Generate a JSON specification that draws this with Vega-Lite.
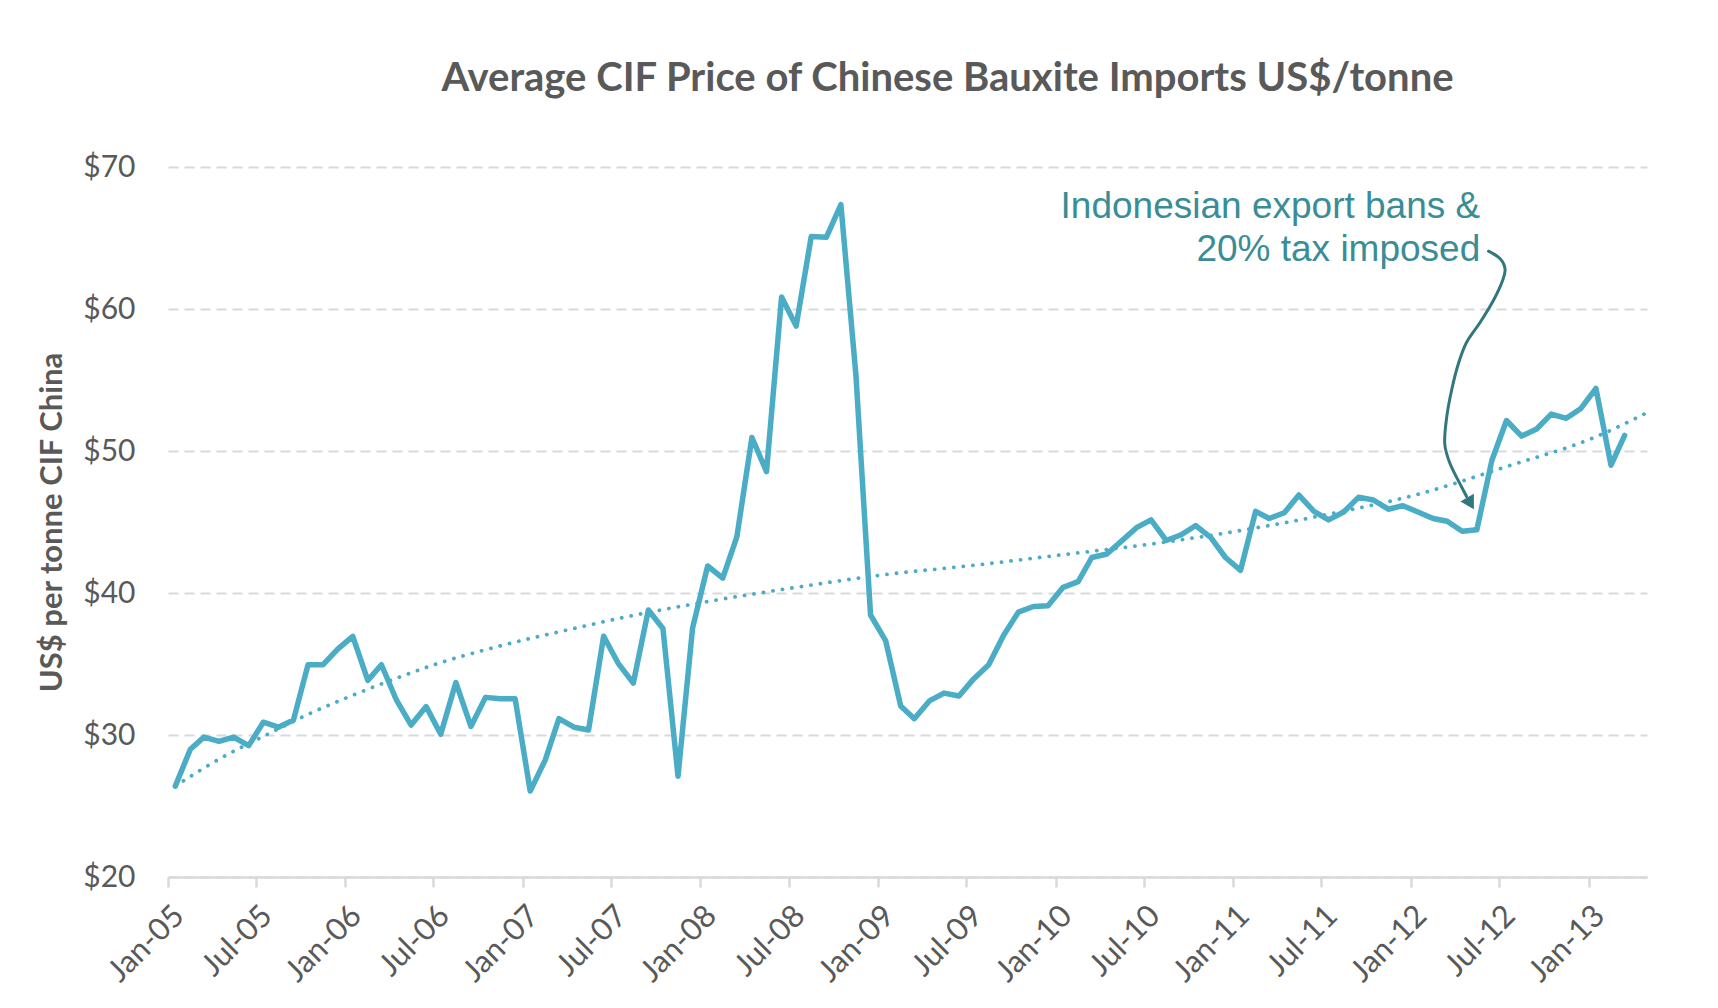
{
  "$schema": "https://vega.github.io/schema/vega-lite/v6.json",
  "width": 1479,
  "height": 710,
  "autosize": {"type": "none"},
  "padding": {"left": 168, "top": 167, "right": 71, "bottom": 131},
  "background": "white",
  "config": {"view": {"stroke": null}, "font": "Lato"},
  "title": {
    "text": "Average CIF Price of Chinese Bauxite Imports US$/tonne",
    "font": "Lato", "fontSize": 40, "fontWeight": "bold", "color": "#595959",
    "anchor": "middle", "dx": 40, "offset": 21, "baseline": "alphabetic"
  },
  "datasets": {
    "price": [
      {"date": "2005-01-16", "value": 26.4}, {"date": "2005-02-16", "value": 29.0}, {"date": "2005-03-16", "value": 29.85},
      {"date": "2005-04-16", "value": 29.55}, {"date": "2005-05-16", "value": 29.85}, {"date": "2005-06-16", "value": 29.25},
      {"date": "2005-07-16", "value": 30.9}, {"date": "2005-08-16", "value": 30.55}, {"date": "2005-09-16", "value": 31.05},
      {"date": "2005-10-16", "value": 34.95}, {"date": "2005-11-16", "value": 34.95}, {"date": "2005-12-16", "value": 36.05},
      {"date": "2006-01-16", "value": 36.95}, {"date": "2006-02-16", "value": 33.85}, {"date": "2006-03-16", "value": 34.95},
      {"date": "2006-04-16", "value": 32.45}, {"date": "2006-05-16", "value": 30.7}, {"date": "2006-06-16", "value": 32.0},
      {"date": "2006-07-16", "value": 30.05}, {"date": "2006-08-16", "value": 33.7}, {"date": "2006-09-16", "value": 30.6},
      {"date": "2006-10-16", "value": 32.65}, {"date": "2006-11-16", "value": 32.55}, {"date": "2006-12-16", "value": 32.55},
      {"date": "2007-01-16", "value": 26.05}, {"date": "2007-02-16", "value": 28.25}, {"date": "2007-03-16", "value": 31.15},
      {"date": "2007-04-16", "value": 30.55}, {"date": "2007-05-16", "value": 30.35}, {"date": "2007-06-16", "value": 36.95},
      {"date": "2007-07-16", "value": 35.05}, {"date": "2007-08-16", "value": 33.65}, {"date": "2007-09-16", "value": 38.8},
      {"date": "2007-10-16", "value": 37.5}, {"date": "2007-11-16", "value": 27.1}, {"date": "2007-12-16", "value": 37.55},
      {"date": "2008-01-16", "value": 41.9}, {"date": "2008-02-16", "value": 41.05}, {"date": "2008-03-16", "value": 43.95},
      {"date": "2008-04-16", "value": 50.95}, {"date": "2008-05-16", "value": 48.55}, {"date": "2008-06-16", "value": 60.85},
      {"date": "2008-07-16", "value": 58.8}, {"date": "2008-08-16", "value": 65.1}, {"date": "2008-09-16", "value": 65.05},
      {"date": "2008-10-16", "value": 67.35}, {"date": "2008-11-16", "value": 55.3}, {"date": "2008-12-16", "value": 38.45},
      {"date": "2009-01-16", "value": 36.65}, {"date": "2009-02-16", "value": 32.05}, {"date": "2009-03-16", "value": 31.15},
      {"date": "2009-04-16", "value": 32.4}, {"date": "2009-05-16", "value": 32.95}, {"date": "2009-06-16", "value": 32.75},
      {"date": "2009-07-16", "value": 33.95}, {"date": "2009-08-16", "value": 34.95}, {"date": "2009-09-16", "value": 37.05},
      {"date": "2009-10-16", "value": 38.65}, {"date": "2009-11-16", "value": 39.05}, {"date": "2009-12-16", "value": 39.1},
      {"date": "2010-01-16", "value": 40.4}, {"date": "2010-02-16", "value": 40.8}, {"date": "2010-03-16", "value": 42.5},
      {"date": "2010-04-16", "value": 42.75}, {"date": "2010-05-16", "value": 43.65}, {"date": "2010-06-16", "value": 44.6},
      {"date": "2010-07-16", "value": 45.15}, {"date": "2010-08-16", "value": 43.7}, {"date": "2010-09-16", "value": 44.1},
      {"date": "2010-10-16", "value": 44.75}, {"date": "2010-11-16", "value": 43.9}, {"date": "2010-12-16", "value": 42.5},
      {"date": "2011-01-16", "value": 41.6}, {"date": "2011-02-16", "value": 45.75}, {"date": "2011-03-16", "value": 45.25},
      {"date": "2011-04-16", "value": 45.65}, {"date": "2011-05-16", "value": 46.9}, {"date": "2011-06-16", "value": 45.75},
      {"date": "2011-07-16", "value": 45.15}, {"date": "2011-08-16", "value": 45.7}, {"date": "2011-09-16", "value": 46.75},
      {"date": "2011-10-16", "value": 46.55}, {"date": "2011-11-16", "value": 45.9}, {"date": "2011-12-16", "value": 46.15},
      {"date": "2012-01-16", "value": 45.7}, {"date": "2012-02-16", "value": 45.25}, {"date": "2012-03-16", "value": 45.05},
      {"date": "2012-04-16", "value": 44.35}, {"date": "2012-05-16", "value": 44.45}, {"date": "2012-06-16", "value": 49.35},
      {"date": "2012-07-16", "value": 52.15}, {"date": "2012-08-16", "value": 51.05}, {"date": "2012-09-16", "value": 51.55},
      {"date": "2012-10-16", "value": 52.6}, {"date": "2012-11-16", "value": 52.3}, {"date": "2012-12-16", "value": 53.0},
      {"date": "2013-01-16", "value": 54.4}, {"date": "2013-02-16", "value": 49.0}, {"date": "2013-03-16", "value": 51.1}
    ],
    "trend": [
      {"date": "2005-01-16", "value": 26.4}, {"date": "2005-04-16", "value": 28.3}, {"date": "2005-07-16", "value": 29.9},
      {"date": "2005-10-16", "value": 31.45}, {"date": "2006-01-16", "value": 32.8}, {"date": "2006-04-16", "value": 34.0},
      {"date": "2006-07-16", "value": 35.1}, {"date": "2006-10-16", "value": 36.0}, {"date": "2007-01-16", "value": 36.8},
      {"date": "2007-04-16", "value": 37.5}, {"date": "2007-07-16", "value": 38.2}, {"date": "2008-01-16", "value": 39.4},
      {"date": "2008-07-16", "value": 40.4}, {"date": "2009-01-16", "value": 41.3}, {"date": "2009-07-16", "value": 41.95},
      {"date": "2010-01-16", "value": 42.7}, {"date": "2010-07-16", "value": 43.45}, {"date": "2011-01-16", "value": 44.4},
      {"date": "2011-07-16", "value": 45.55}, {"date": "2012-01-16", "value": 46.95}, {"date": "2012-07-16", "value": 48.9},
      {"date": "2013-01-16", "value": 51.0}, {"date": "2013-05-01", "value": 52.7}
    ],
    "arrow": [
      {"i": 1, "date": "2012-06-09", "value": 64.07}, {"i": 2, "date": "2012-07-03", "value": 63.54},
      {"i": 3, "date": "2012-07-13", "value": 62.83}, {"i": 4, "date": "2012-07-08", "value": 62.01},
      {"i": 5, "date": "2012-06-19", "value": 60.6}, {"i": 6, "date": "2012-05-23", "value": 59.07},
      {"i": 7, "date": "2012-04-25", "value": 57.66}, {"i": 8, "date": "2012-04-08", "value": 56.14},
      {"i": 9, "date": "2012-03-25", "value": 54.26}, {"i": 10, "date": "2012-03-15", "value": 52.38},
      {"i": 11, "date": "2012-03-11", "value": 50.51}, {"i": 12, "date": "2012-03-22", "value": 49.1},
      {"i": 13, "date": "2012-04-15", "value": 47.45}, {"i": 14, "date": "2012-04-25", "value": 46.8}
    ],
    "head": [{"date": "2012-05-03", "value": 46.3}],
    "notes": [
      {"date": "2012-05-23", "value": 66.4, "label": "Indonesian export bans &"},
      {"date": "2012-05-23", "value": 63.35, "label": "20% tax imposed"}
    ]
  },
  "encoding": {
    "x": {
      "field": "date", "type": "temporal",
      "scale": {"type": "utc", "nice": false, "domain": [{"year": 2005, "month": 1, "date": 1, "utc": true}, {"year": 2013, "month": 5, "date": 1, "utc": true}]},
      "axis": {
        "values": [
          {"year": 2005, "month": 1, "date": 1, "utc": true}, {"year": 2005, "month": 7, "date": 1, "utc": true},
          {"year": 2006, "month": 1, "date": 1, "utc": true}, {"year": 2006, "month": 7, "date": 1, "utc": true},
          {"year": 2007, "month": 1, "date": 1, "utc": true}, {"year": 2007, "month": 7, "date": 1, "utc": true},
          {"year": 2008, "month": 1, "date": 1, "utc": true}, {"year": 2008, "month": 7, "date": 1, "utc": true},
          {"year": 2009, "month": 1, "date": 1, "utc": true}, {"year": 2009, "month": 7, "date": 1, "utc": true},
          {"year": 2010, "month": 1, "date": 1, "utc": true}, {"year": 2010, "month": 7, "date": 1, "utc": true},
          {"year": 2011, "month": 1, "date": 1, "utc": true}, {"year": 2011, "month": 7, "date": 1, "utc": true},
          {"year": 2012, "month": 1, "date": 1, "utc": true}, {"year": 2012, "month": 7, "date": 1, "utc": true},
          {"year": 2013, "month": 1, "date": 1, "utc": true}
        ],
        "format": "%b-%y",
        "labelAngle": -45, "labelAlign": "right", "labelBaseline": "middle",
        "labelFont": "Lato", "labelFontSize": 31, "labelColor": "#595959",
        "labelPadding": 24, "labelOffset": 11, "labelOverlap": false, "labelBound": false, "labelFlush": false,
        "tickColor": "#d9d9d9", "tickSize": 10, "tickWidth": 2.5,
        "domainColor": "#d9d9d9", "domainWidth": 2.5,
        "grid": false, "title": null
      }
    },
    "y": {
      "field": "value", "type": "quantitative",
      "scale": {"domain": [20, 70], "nice": false, "zero": false},
      "axis": {
        "values": [20, 30, 40, 50, 60, 70],
        "labelExpr": "'$' + datum.value",
        "domain": false, "ticks": false, "tickSize": 0,
        "labelPadding": 33, "labelFont": "Lato", "labelFontSize": 30, "labelColor": "#595959",
        "grid": true, "gridColor": "#d9d9d9", "gridDash": [10, 6], "gridWidth": 2,
        "title": "US$ per tonne CIF China", "titleFont": "Lato", "titleFontSize": 31,
        "titleFontWeight": "bold", "titleColor": "#595959", "titlePadding": 14
      }
    }
  },
  "layer": [
    {
      "data": {"name": "trend"},
      "mark": {"type": "line", "color": "#4BACC6", "strokeWidth": 3.8, "strokeDash": [0.1, 9.5], "strokeCap": "round", "interpolate": "monotone"}
    },
    {
      "data": {"name": "price"},
      "mark": {"type": "line", "color": "#4BACC6", "strokeWidth": 5.5, "strokeJoin": "round", "strokeCap": "round"}
    },
    {
      "data": {"name": "arrow"},
      "mark": {"type": "line", "color": "#31777d", "strokeWidth": 3, "interpolate": "cardinal", "strokeCap": "round"},
      "encoding": {"order": {"field": "i", "type": "quantitative"}}
    },
    {
      "data": {"name": "head"},
      "mark": {"type": "point", "shape": "triangle-down", "filled": true, "color": "#31777d", "size": 240, "angle": 330, "opacity": 1}
    },
    {
      "data": {"name": "notes"},
      "mark": {"type": "text", "align": "right", "baseline": "alphabetic", "font": "Liberation Sans", "fontSize": 37, "color": "#3a8d96"},
      "encoding": {"text": {"field": "label", "type": "nominal"}}
    }
  ]
}
